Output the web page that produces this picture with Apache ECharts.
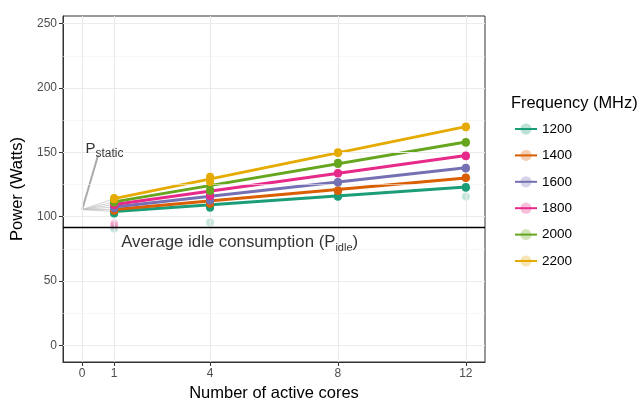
<!DOCTYPE html>
<html>
<head>
<meta charset="utf-8">
<script src="https://cdn.jsdelivr.net/npm/echarts@6/dist/echarts.min.js"></script>
<style>
  html, body { margin: 0; padding: 0; background: #fff; }
  #chart { width: 641px; height: 400px; }
</style>
</head>
<body>
<div id="chart"></div>
<script>
// frequencies and colours (Dark2)
const freqs = ['1200', '1400', '1600', '1800', '2000', '2200'];
const colors = ['#1B9E77', '#D95F02', '#7570B3', '#E7298A', '#66A61E', '#E6AB02'];

// fitted lines, value at 1 core and at 12 cores
const fitAt1 = [104, 105.5, 107.5, 109.5, 111.5, 114];
const fitAt12 = [123, 130, 138, 147.5, 158, 170];

// measured points
const cores = [1, 1, 4, 4, 8, 8, 12, 12];
const power1200 = [103, 102.5, 108, 107, 116, 115.5, 123, 122.5];
const power1400 = [105, 104.5, 110.5, 110, 120.5, 120, 130.5, 130];
const power1600 = [107, 106.5, 113, 112.5, 127, 126.5, 138, 137.5];
const power1800 = [109.5, 109, 117, 116, 134, 133.5, 147.5, 147];
const power2000 = [111.5, 111, 121, 120, 142, 141, 158, 157.5];
const power2200 = [114.5, 113.5, 131, 127, 150, 149.5, 170, 169.5];
const powers = [power1200, power1400, power1600, power1800, power2000, power2200];

// faint (discarded) measurements
const outlierCores = [1, 4, 12, 1, 1];
const outlierPower = [90.8, 95.5, 115.7, 94.7, 93];
const outlierFreq = [0, 0, 0, 3, 3];

const pStatic = 105.5;
const pIdle = 92;

const xTicks = [0, 1, 4, 8, 12];
const yTicks = [0, 50, 100, 150, 200, 250];
const yMinor = [25, 75, 125, 175, 225];

const chart = echarts.init(document.getElementById('chart'));

const series = [];

// grid lines
series.push({
  type: 'line', data: [], silent: true, z: 0,
  markLine: {
    silent: true, symbol: 'none', label: { show: false }, animation: false,
    data: [
      ...yMinor.map(v => ({ yAxis: v, lineStyle: { color: '#f2f2f2', width: 0.6, type: 'solid' } })),
      ...yTicks.map(v => ({ yAxis: v, lineStyle: { color: '#ebebeb', width: 1.1, type: 'solid' } })),
      ...xTicks.map(v => ({ xAxis: v, lineStyle: { color: '#ebebeb', width: 1.1, type: 'solid' } }))
    ]
  }
});

// idle line
series.push({
  type: 'line', data: [], silent: true, z: 3,
  markLine: {
    silent: true, symbol: 'none', label: { show: false }, animation: false,
    data: [{ yAxis: pIdle, lineStyle: { color: '#000', width: 1.3, type: 'solid' } }]
  }
});

// grey connectors to P_static
freqs.forEach((f, i) => {
  series.push({
    type: 'line', silent: true, z: 2, symbol: 'none',
    data: [[0, pStatic], [1, fitAt1[i]]],
    lineStyle: { color: '#bbb', width: 0.7 }
  });
});
series.push({
  type: 'line', silent: true, z: 2, symbol: 'none',
  data: [[0, pStatic], [0.5, 148]],
  lineStyle: { color: '#aaa', width: 2 }
});

// faint points
series.push({
  type: 'scatter', silent: true, z: 2, symbolSize: 8,
  data: outlierCores.map((c, k) => ({
    value: [c, outlierPower[k]],
    itemStyle: { color: colors[outlierFreq[k]], opacity: 0.25 }
  }))
});

// fitted lines and measured points
freqs.forEach((f, i) => {
  series.push({
    name: f, type: 'line', z: 4, symbol: 'circle', symbolSize: 6, showSymbol: false,
    data: [[1, fitAt1[i]], [12, fitAt12[i]]],
    color: colors[i],
    itemStyle: { color: colors[i], opacity: 0.3 },
    lineStyle: { color: colors[i], width: 3 }
  });
  series.push({
    name: f, type: 'scatter', z: 5, symbolSize: 8,
    data: cores.map((c, k) => [c, powers[i][k]]),
    itemStyle: { color: colors[i], opacity: 1 }
  });
});

// annotations
series.push({
  type: 'scatter', silent: true, z: 6, symbolSize: 0,
  data: [[0.1, 151.6]],
  label: {
    show: true, position: 'right', distance: 0,
    formatter: '{p|P}{s|static}',
    rich: {
      p: { fontSize: 15, color: '#000', lineHeight: 18, verticalAlign: 'top', fontFamily: 'Liberation Sans' },
      s: { fontSize: 12, color: '#000', lineHeight: 12, verticalAlign: 'bottom', fontFamily: 'Liberation Sans' }
    }
  }
});
series.push({
  type: 'scatter', silent: true, z: 6, symbolSize: 0,
  data: [[1.22, 79]],
  label: {
    show: true, position: 'right', distance: 0,
    formatter: '{t|Average idle consumption (P}{s|idle}{t|)}',
    rich: {
      t: { fontSize: 16.8, color: '#000', lineHeight: 20, verticalAlign: 'top', fontFamily: 'Liberation Sans' },
      s: { fontSize: 11, color: '#000', lineHeight: 12, verticalAlign: 'bottom', fontFamily: 'Liberation Sans' }
    }
  }
});

chart.setOption({
  animation: false,
  textStyle: { fontFamily: 'Liberation Sans' },
  title: {
    text: 'Frequency (MHz)', left: 506, top: 90,
    textStyle: { fontSize: 16.4, fontWeight: 'normal', color: '#000' }
  },
  legend: {
    data: freqs, orient: 'vertical', left: 509, top: 117,
    itemWidth: 22, itemHeight: 14, itemGap: 12.4,
    textStyle: { fontSize: 13.5, color: '#000' }
  },
  grid: {
    left: 63, right: 156, top: 16, bottom: 38,
    outerBoundsMode: 'none',
    show: true, borderColor: '#333', borderWidth: 1, backgroundColor: 'transparent'
  },
  xAxis: {
    type: 'value', min: -0.6, max: 12.6,
    name: 'Number of active cores', nameLocation: 'middle', nameGap: 22,
    nameTextStyle: { fontSize: 16.5, color: '#000' },
    axisLine: { onZero: false, lineStyle: { color: '#333' } },
    axisTick: { show: true, customValues: xTicks, length: 4, lineStyle: { color: '#333' } },
    axisLabel: { customValues: xTicks, fontSize: 12, color: '#4d4d4d', margin: 6 },
    splitLine: { show: false }
  },
  yAxis: {
    type: 'value', min: -13, max: 256,
    name: 'Power (Watts)', nameLocation: 'middle', nameGap: 37,
    nameTextStyle: { fontSize: 16.5, color: '#000' },
    axisLine: { onZero: false, lineStyle: { color: '#333' } },
    axisTick: { show: true, customValues: yTicks, length: 4, lineStyle: { color: '#333' } },
    axisLabel: { customValues: yTicks, fontSize: 12, color: '#4d4d4d', margin: 6 },
    splitLine: { show: false }
  },
  series: series
});
</script>
</body>
</html>
